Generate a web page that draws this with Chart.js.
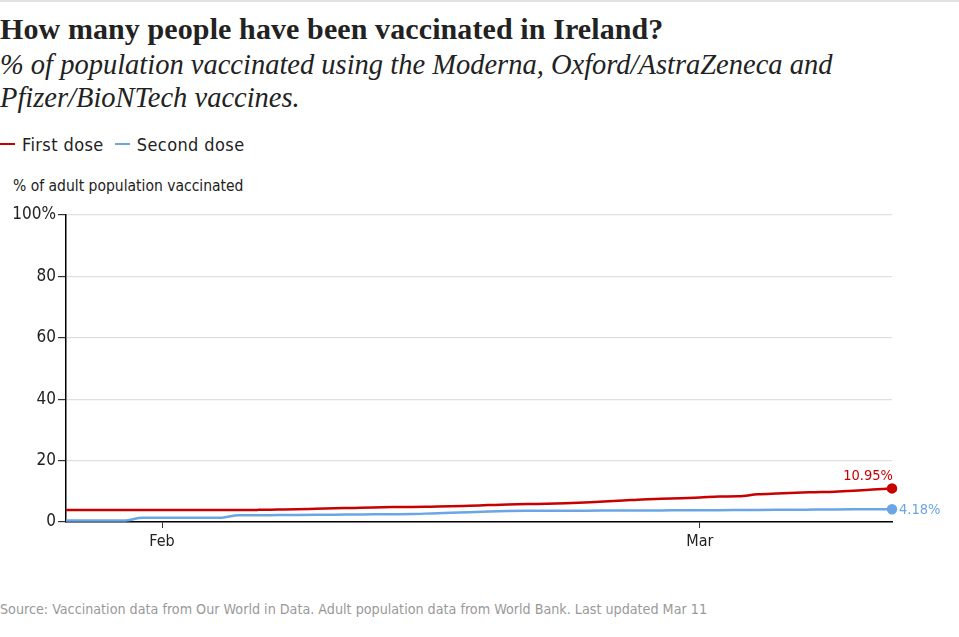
<!DOCTYPE html>
<html>
<head>
<meta charset="utf-8">
<script src="https://cdn.jsdelivr.net/npm/chart.js@4.4.1/dist/chart.umd.min.js"></script>
<style>
  html, body { margin: 0; padding: 0; background: #fff; width: 959px; height: 637px; overflow: hidden; }
  body { position: relative; font-family: "DejaVu Sans Condensed", "DejaVu Sans", sans-serif; color: #222; }
  #topline { position: absolute; left: 0; top: 0; width: 959px; height: 2px; background: #e2e2e2; }
  #title { position: absolute; left: 0; top: 14px; line-height: 30px; font-family: "Liberation Serif", serif; font-weight: bold; font-size: 30px; color: #222; white-space: nowrap; letter-spacing: 0.1px; }
  #subtitle { position: absolute; left: 0; top: 48px; width: 900px; font-family: "Liberation Serif", serif; font-style: italic; font-size: 28.5px; line-height: 33px; color: #222; }
  #legend { position: absolute; left: 0; top: 132px; font-size: 18px; letter-spacing: 0.4px; white-space: nowrap; }
  .lg { display: inline-block; vertical-align: middle; }
  .sw { display: inline-block; width: 15px; height: 2.5px; vertical-align: middle; margin-right: 7px; }
  #ytitle { position: absolute; left: 13px; top: 177px; font-size: 15.5px; white-space: nowrap; }
  #source { position: absolute; left: 0; top: 601px; font-size: 14.2px; color: #999; white-space: nowrap; }
  #wrap { position: absolute; left: 0; top: 200px; width: 959px; height: 360px; }
</style>
</head>
<body>
<div id="topline"></div>
<div id="title">How many people have been vaccinated in Ireland?</div>
<div id="subtitle">% of population vaccinated using the Moderna, Oxford/AstraZeneca and Pfizer/BioNTech vaccines.</div>
<div id="legend"><span class="sw" style="background:#c80000"></span><span class="lg">First dose</span>&nbsp;&nbsp;<span class="sw" style="background:#6aa6e6"></span><span class="lg">Second dose</span></div>
<div id="ytitle">% of adult population vaccinated</div>
<div id="source">Source: Vaccination data from Our World in Data. Adult population data from World Bank. Last updated Mar 11</div>
<div id="wrap"><canvas id="c" width="959" height="360"></canvas></div>
<script>
const dates = [
  "Jan 27","Jan 28","Jan 29","Jan 30","Jan 31",
  "Feb 1","Feb 2","Feb 3","Feb 4","Feb 5","Feb 6","Feb 7","Feb 8","Feb 9","Feb 10",
  "Feb 11","Feb 12","Feb 13","Feb 14","Feb 15","Feb 16","Feb 17","Feb 18","Feb 19","Feb 20",
  "Feb 21","Feb 22","Feb 23","Feb 24","Feb 25","Feb 26","Feb 27","Feb 28",
  "Mar 1","Mar 2","Mar 3","Mar 4","Mar 5","Mar 6","Mar 7","Mar 8","Mar 9","Mar 10","Mar 11"
];
const firstDose = [
  3.9,3.9,3.9,3.9,3.9,
  3.9,3.9,3.9,3.9,3.9,3.95,4.05,4.15,4.3,4.45,
  4.6,4.75,4.85,4.9,5.0,5.1,5.3,5.5,5.7,5.85,
  5.95,6.1,6.35,6.7,7.0,7.35,7.55,7.75,
  7.95,8.3,8.35,9.0,9.3,9.55,9.7,9.85,10.15,10.55,10.95
];
const secondDose = [
  0.45,0.45,0.45,0.45,1.4,
  1.4,1.4,1.4,1.4,2.2,2.2,2.25,2.3,2.35,2.4,
  2.45,2.5,2.55,2.6,2.8,3.0,3.2,3.4,3.55,3.65,
  3.7,3.7,3.7,3.72,3.74,3.76,3.78,3.8,
  3.82,3.85,3.88,3.92,3.96,4.0,4.04,4.08,4.12,4.15,4.18
];
const monthTicks = { "Feb 1": "Feb", "Mar 1": "Mar" };
const yTicks = [0, 20, 40, 60, 80, 100];
const seriesNames = ["First dose", "Second dose"];
const colors = ["#c80000", "#6aa6e6"];
const FONT = '"DejaVu Sans Condensed", "DejaVu Sans", sans-serif';

const endLabels = {
  id: 'endLabels',
  afterDatasetsDraw(chart) {
    const ctx = chart.ctx;
    ctx.save();
    ctx.font = '14.5px ' + FONT;
    chart.data.datasets.forEach((ds, i) => {
      const meta = chart.getDatasetMeta(i);
      const pt = meta.data[meta.data.length - 1];
      const v = ds.data[ds.data.length - 1];
      const txt = v.toFixed(2) + '%';
      ctx.fillStyle = ds.borderColor;
      if (i === 0) {
        ctx.textAlign = 'right';
        ctx.textBaseline = 'bottom';
        ctx.fillText(txt, pt.x + 1, pt.y - 5);
      } else {
        ctx.textAlign = 'left';
        ctx.textBaseline = 'middle';
        ctx.fillText(txt, pt.x + 7, pt.y + 1);
      }
    });
    ctx.restore();
  }
};

new Chart(document.getElementById('c'), {
  type: 'line',
  data: {
    labels: dates,
    datasets: [
      { label: seriesNames[0], data: firstDose, borderColor: colors[0], backgroundColor: colors[0], borderWidth: 2.5, cubicInterpolationMode: 'monotone',
        pointRadius: ctx => ctx.dataIndex === firstDose.length - 1 ? 4 : 0, pointHoverRadius: 0 },
      { label: seriesNames[1], data: secondDose, borderColor: colors[1], backgroundColor: colors[1], borderWidth: 2.5, cubicInterpolationMode: 'monotone',
        pointRadius: ctx => ctx.dataIndex === secondDose.length - 1 ? 4 : 0, pointHoverRadius: 0 }
    ]
  },
  options: {
    responsive: false,
    animation: false,
    events: [],
    layout: { padding: { left: 0, right: 67, top: 15, bottom: 0 } },
    plugins: { legend: { display: false }, tooltip: { enabled: false } },
    scales: {
      x: {
        type: 'category',
        offset: false,
        border: { color: '#000', width: 1.5 },
        grid: {
          drawOnChartArea: false,
          tickLength: 6,
          tickColor: ctx => (ctx.tick && monthTicks[dates[ctx.index]]) ? '#333' : 'rgba(0,0,0,0)'
        },
        ticks: {
          autoSkip: false, maxRotation: 0, padding: 4,
          color: '#222',
          font: { family: FONT, size: 16 },
          callback: (val, idx) => monthTicks[dates[idx]] || ''
        },
        afterFit: s => { s.height = 38; }
      },
      y: {
        min: 0, max: 100,
        afterBuildTicks: s => { s.ticks = yTicks.map(v => ({ value: v })); },
        border: { color: '#000', width: 1.5 },
        grid: { color: '#e0e0e0', tickColor: '#333', tickLength: 8, lineWidth: 1.2 },
        ticks: {
          padding: 2, color: '#222',
          font: { family: FONT, size: 17 },
          callback: v => v === 100 ? '100%' : String(v)
        },
        afterFit: s => { s.width = 66; }
      }
    }
  },
  plugins: [endLabels]
});
</script>
</body>
</html>
